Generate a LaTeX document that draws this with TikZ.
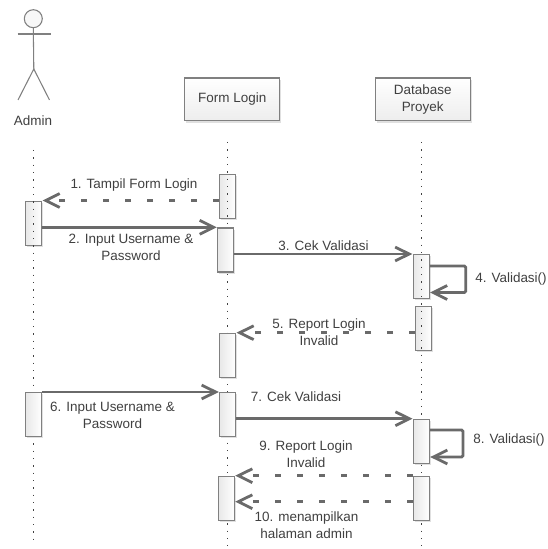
\documentclass[tikz,border=0pt]{standalone}
\usepackage{fontspec}
\setmainfont{Liberation Sans}
\usetikzlibrary{arrows.meta,shadows,calc}
\definecolor{ink}{HTML}{404040}
\definecolor{edge}{HTML}{808080}
\definecolor{msg}{HTML}{6A6A6A}
\pgfdeclarearrow{
  name = OpenV,
  setup code = {\pgfarrowssetbackend{-13.5pt}\pgfarrowssettipend{0pt}\pgfarrowssetlineend{-3pt}\pgfarrowssetvisualbackend{-3pt}},
  drawing code = {\pgfsetdash{}{0pt}\pgfsetlinewidth{2.1pt}\pgfsetmiterjoin\pgfsetbuttcap
    \pgfpathmoveto{\pgfpoint{-13pt}{5.2pt}}\pgfpathlineto{\pgfpoint{-2.5pt}{0pt}}\pgfpathlineto{\pgfpoint{-13pt}{-5.2pt}}\pgfusepathqstroke},
  defaults = {}
}
\tikzset{
  x=0.75pt,y=-0.75pt,
  shadowed/.style={drop shadow={shadow xshift=1.2pt,shadow yshift=-1.2pt,opacity=.12,fill=black}},
  actbox/.style={draw=edge,line width=1pt,left color=black!9,right color=white,shadowed,minimum width=12pt,minimum height=33pt,inner sep=0pt,anchor=north west},
  objbox/.style={draw=edge,line width=0.8pt,top color=white,bottom color=black!7,shadowed,minimum height=32.2pt,inner sep=0pt,anchor=north west,align=center,text=ink,font=\fontsize{10.1pt}{12.6pt}\selectfont},
  lifeline/.style={draw=ink,line width=1pt,dash pattern=on 1pt off 4.5pt},
  label/.style={text=ink,font=\fontsize{10.1pt}{12.6pt}\selectfont,align=center,inner sep=0pt},
  solidmsg/.style={draw=msg,line width=2.1pt,-OpenV},
  dashmsg/.style={draw=msg,line width=2.1pt,dash pattern=on 4.5pt off 12pt,-OpenV},
  actorline/.style={draw=edge,line width=0.8pt},
}
\begin{document}
\begin{tikzpicture}
\useasboundingbox (0,0) rectangle (548,549);
% activations the lifelines run over
\node[actbox] (f1) at (219,173.5) {};
\node[actbox] (a1) at (25,200.5) {};
\node[actbox] (d1) at (412.5,254) {};
\node[actbox] (d2) at (415,306) {};
% lifelines
\coordinate (la0) at (33.5,150); \coordinate (la1) at (33.5,546);
\coordinate (lf0) at (227.5,142); \coordinate (lf1) at (227.5,546);
\coordinate (ld0) at (421.5,142); \coordinate (ld1) at (421.5,546);
\draw[lifeline] (la0) -- (la1);
\draw[lifeline] (lf0) -- (lf1);
\draw[lifeline] (ld0) -- (ld1);
% actor
\node[circle,draw=edge,line width=0.8pt,fill=black!3,minimum size=13.5pt,inner sep=0pt] (head) at (33.3,18.7) {};
\coordinate (armL) at (17.7,34); \coordinate (armR) at (51,34);
\coordinate (hip) at (33.8,69); \coordinate (legL) at (18,100); \coordinate (legR) at (49.5,100);
\draw[actorline] (armL) -- (armR);
\draw[actorline] (head.south) -- (hip);
\draw[actorline] (legL) -- (hip) -- (legR);
\node[label] (admin) at (33,120.5) {Admin};
% objects
\node[objbox,minimum width=71.2pt] (form) at (184.3,77.5) {Form Login};
\node[objbox,minimum width=71.2pt] (db) at (374.7,77.5) {Database\\Proyek};
% activations over the lifelines
\node[actbox] (f2) at (217,227.3) {};
\node[actbox] (f3) at (219,332.7) {};
\node[actbox] (a2) at (25,392) {};
\node[actbox] (f4) at (219,392) {};
\node[actbox] (d3) at (412.7,418.7) {};
\node[actbox] (f5) at (217.7,475.7) {};
\node[actbox] (d4) at (412.7,475.7) {};
% messages
\draw[dashmsg] (f1.west |- a1.north) -- (a1.north east);
\draw[solidmsg] (a1.east |- f2.north) -- (f2.north west);
\draw[solidmsg] (f2.east |- d1.north) -- (d1.north west);
\coordinate (l4a) at (465.7,266); \coordinate (l4b) at (465.7,292.5);
\draw[solidmsg,rounded corners=1pt] (d1.east |- l4a) -- (l4a) -- (l4b) -- (d1.east |- l4b);
\draw[dashmsg] (d2.west |- f3.north) -- (f3.north east);
\draw[solidmsg] (a2.north east) -- (f4.north west);
\draw[solidmsg] (f4.east |- d3.north) -- (d3.north west);
\coordinate (l8a) at (463,430); \coordinate (l8b) at (463,457);
\draw[solidmsg,rounded corners=1pt] (d3.east |- l8a) -- (l8a) -- (l8b) -- (d3.east |- l8b);
\draw[dashmsg] (d4.west |- f5.north) -- (f5.north east);
\coordinate (r10) at (412.7,501.7);
\draw[dashmsg] (r10) -- (f5.east |- r10);
% labels
\node[label] (t1) at (134,185) {1. Tampil Form Login};
\node[label] (t2) at (131,247.5) {2. Input Username \&\\Password};
\node[label] (t3) at (323.5,245.5) {3. Cek Validasi};
\node[label] (t4) at (511,279) {4. Validasi()};
\node[label] (t5) at (319,332.5) {5. Report Login\\Invalid};
\node[label] (t6) at (112.5,415) {6. Input Username \&\\Password};
\node[label] (t7) at (296,397) {7. Cek Validasi};
\node[label] (t8) at (509,440) {8. Validasi()};
\node[label] (t9) at (306,454) {9. Report Login\\Invalid};
\node[label] (t10) at (306.5,525) {10. menampilkan\\halaman admin};
\end{tikzpicture}
\end{document}
